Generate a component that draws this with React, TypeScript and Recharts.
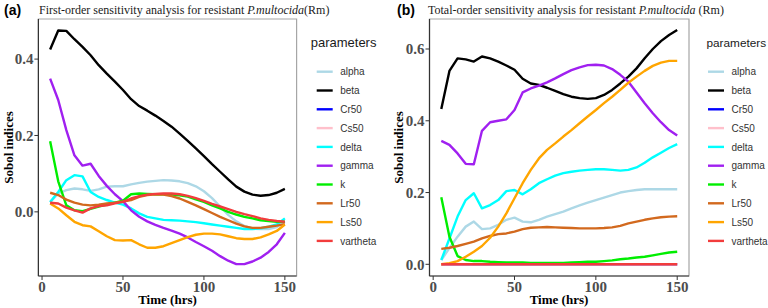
import React from "react";
import { LineChart, Line, XAxis, YAxis, ReferenceArea } from "recharts";

// Sampling times (hrs)
const times = [5, 10, 15, 20, 25, 30, 35, 40, 45, 50, 55, 60, 65, 70, 75, 80, 85, 90, 95, 100, 105, 110, 115, 120, 125, 130, 135, 140, 145, 150];

const paramNames = ["alpha", "beta", "Cr50", "Cs50", "delta", "gamma", "k", "Lr50", "Ls50", "vartheta"];
const paramColors = ["#add8e6", "#000000", "#0000ff", "#ffc0cb", "#00ffff", "#a020f0", "#00ee00", "#d2691e", "#ffa500", "#f23c3c"];

const xTicks = [0, 50, 100, 150];
const firstOrderTicks = [0, 0.2, 0.4];
const totalOrderTicks = [0, 0.2, 0.4, 0.6];

// First-order Sobol indices
const firstAlpha = [0.025, 0.048, 0.057, 0.061, 0.059, 0.055, 0.059, 0.066, 0.067, 0.067, 0.072, 0.076, 0.079, 0.081, 0.083, 0.082, 0.08, 0.075, 0.067, 0.054, 0.036, 0.014, -0.008, -0.025, -0.037, -0.044, -0.045, -0.045, -0.04, -0.025];
const firstBeta = [0.425, 0.475, 0.474, 0.452, 0.432, 0.41, 0.384, 0.362, 0.341, 0.319, 0.295, 0.277, 0.265, 0.252, 0.238, 0.223, 0.205, 0.186, 0.166, 0.146, 0.125, 0.105, 0.085, 0.066, 0.053, 0.045, 0.042, 0.044, 0.05, 0.06];
const firstCr50: (number | null)[] = [];
const firstCs50: (number | null)[] = [];
const firstDelta = [0.026, 0.052, 0.083, 0.096, 0.093, 0.052, 0.039, 0.031, 0.024, 0.019, 0.009, -0.004, -0.013, -0.017, -0.021, -0.022, -0.023, -0.025, -0.027, -0.03, -0.033, -0.036, -0.039, -0.042, -0.045, -0.045, -0.043, -0.039, -0.033, -0.017];
const firstGamma = [0.349, 0.293, 0.214, 0.148, 0.121, 0.126, 0.094, 0.068, 0.046, 0.028, 0.004, -0.013, -0.025, -0.034, -0.042, -0.049, -0.057, -0.067, -0.079, -0.09, -0.102, -0.116, -0.128, -0.137, -0.137, -0.13, -0.12, -0.105, -0.085, -0.055];
const firstK = [0.185, 0.08, 0.017, 0.004, 0.002, 0.008, 0.014, 0.019, 0.024, 0.029, 0.046, 0.048, 0.047, 0.046, 0.046, 0.045, 0.043, 0.04, 0.033, 0.026, 0.017, 0.009, 0.0, -0.007, -0.013, -0.017, -0.022, -0.024, -0.026, -0.026];
const firstLr50 = [0.05, 0.044, 0.032, 0.024, 0.019, 0.017, 0.019, 0.022, 0.024, 0.027, 0.031, 0.039, 0.044, 0.046, 0.045, 0.041, 0.035, 0.026, 0.017, 0.007, -0.003, -0.013, -0.022, -0.031, -0.038, -0.042, -0.042, -0.039, -0.036, -0.032];
const firstLs50 = [0.022, 0.009, -0.009, -0.026, -0.035, -0.038, -0.051, -0.064, -0.074, -0.075, -0.074, -0.085, -0.094, -0.094, -0.09, -0.082, -0.074, -0.066, -0.06, -0.057, -0.057, -0.059, -0.064, -0.069, -0.071, -0.071, -0.067, -0.059, -0.05, -0.033];
const firstVartheta = [0.024, 0.022, 0.011, 0.004, -0.002, 0.009, 0.015, 0.017, 0.022, 0.026, 0.035, 0.041, 0.045, 0.047, 0.048, 0.048, 0.046, 0.042, 0.036, 0.029, 0.021, 0.014, 0.007, 0.0, -0.006, -0.011, -0.017, -0.021, -0.024, -0.026];

// Total-order Sobol indices
const totalAlpha = [0.012, 0.045, 0.077, 0.105, 0.119, 0.098, 0.1, 0.11, 0.124, 0.13, 0.119, 0.117, 0.124, 0.133, 0.14, 0.147, 0.156, 0.164, 0.172, 0.179, 0.186, 0.193, 0.2, 0.204, 0.207, 0.209, 0.209, 0.209, 0.209, 0.209];
const totalBeta = [0.433, 0.539, 0.574, 0.571, 0.565, 0.579, 0.574, 0.565, 0.554, 0.542, 0.517, 0.504, 0.5, 0.492, 0.483, 0.474, 0.467, 0.463, 0.461, 0.463, 0.472, 0.486, 0.504, 0.523, 0.546, 0.574, 0.6, 0.622, 0.639, 0.653];
const totalCr50 = [0, 0, 0, 0, 0, 0, 0, 0, 0, 0, 0, 0, 0, 0, 0, 0, 0, 0, 0, 0, 0, 0, 0, 0, 0, 0, 0, 0, 0, 0];
const totalCs50 = [0, 0, 0, 0, 0, 0, 0, 0, 0, 0, 0, 0, 0, 0, 0, 0, 0, 0, 0, 0, 0, 0, 0, 0, 0, 0, 0, 0, 0, 0];
const totalDelta = [0.012, 0.072, 0.133, 0.179, 0.198, 0.156, 0.165, 0.179, 0.204, 0.207, 0.195, 0.209, 0.226, 0.237, 0.247, 0.254, 0.258, 0.261, 0.263, 0.265, 0.265, 0.263, 0.261, 0.263, 0.27, 0.283, 0.298, 0.311, 0.324, 0.335];
const totalGamma = [0.344, 0.333, 0.309, 0.28, 0.279, 0.372, 0.396, 0.4, 0.404, 0.43, 0.479, 0.49, 0.498, 0.507, 0.518, 0.53, 0.541, 0.549, 0.555, 0.556, 0.554, 0.544, 0.528, 0.509, 0.479, 0.449, 0.421, 0.396, 0.374, 0.359];
const totalK = [0.187, 0.077, 0.023, 0.012, 0.009, 0.009, 0.007, 0.006, 0.005, 0.005, 0.005, 0.004, 0.004, 0.004, 0.004, 0.004, 0.005, 0.006, 0.007, 0.007, 0.009, 0.011, 0.014, 0.016, 0.019, 0.021, 0.025, 0.029, 0.033, 0.035];
const totalLr50 = [0.043, 0.046, 0.051, 0.057, 0.063, 0.072, 0.079, 0.084, 0.086, 0.091, 0.098, 0.102, 0.103, 0.104, 0.103, 0.102, 0.101, 0.1, 0.1, 0.1, 0.101, 0.103, 0.107, 0.114, 0.119, 0.124, 0.128, 0.131, 0.133, 0.134];
const totalLs50 = [0, 0.003, 0.009, 0.021, 0.035, 0.051, 0.074, 0.105, 0.142, 0.184, 0.226, 0.263, 0.295, 0.319, 0.337, 0.356, 0.374, 0.393, 0.412, 0.43, 0.449, 0.467, 0.486, 0.506, 0.523, 0.539, 0.553, 0.562, 0.567, 0.567];
const totalVartheta = [0, 0, 0, 0, 0, 0, 0, 0, 0, 0, 0, 0, 0, 0, 0, 0, 0, 0, 0, 0, 0, 0, 0, 0, 0, 0, 0, 0, 0, 0];

const firstSeries = [firstAlpha, firstBeta, firstCr50, firstCs50, firstDelta, firstGamma, firstK, firstLr50, firstLs50, firstVartheta];
const totalSeries = [totalAlpha, totalBeta, totalCr50, totalCs50, totalDelta, totalGamma, totalK, totalLr50, totalLs50, totalVartheta];

type Row = Record<string, number | null>;

function buildRows(series: (number | null)[][]): Row[] {
  return times.map((t, i) => {
    const row: Row = { t };
    paramNames.forEach((name, j) => {
      const v = series[j][i];
      row[name] = v === undefined ? null : v;
    });
    return row;
  });
}

const firstRows = buildRows(firstSeries);
const totalRows = buildRows(totalSeries);

const X_DOMAIN: [number, number] = [-2.25, 157.25];
const SERIF = "'Liberation Serif', 'Times New Roman', serif";
const SANS = "'Liberation Sans', Arial, sans-serif";

interface PanelProps {
  rows: Row[];
  series: (number | null)[][];
  yDomain: [number, number];
  yTicks: number[];
  axisWidth: number;
  rightMargin: number;
}

function Panel({ rows, series, yDomain, yTicks, axisWidth, rightMargin }: PanelProps) {
  const tickStyle = { fontFamily: SERIF, fontSize: 15, fontWeight: 700, fill: "#4d4d4d" };
  return (
    <LineChart width={384} height={308} data={rows} margin={{ top: 19, right: rightMargin, bottom: 0, left: 0 }}>
      <ReferenceArea x1={X_DOMAIN[0]} x2={X_DOMAIN[1]} y1={yDomain[0]} y2={yDomain[1]} fill="none" stroke="#a6a6a6" strokeWidth={1.2} ifOverflow="visible" />
      <XAxis
        dataKey="t"
        type="number"
        domain={X_DOMAIN}
        ticks={xTicks}
        allowDataOverflow
        height={32}
        tickSize={4}
        tickMargin={1}
        tick={tickStyle}
        stroke="#333333"
        tickLine={{ stroke: "#333333" }}
        axisLine={{ stroke: "#333333", strokeWidth: 1.2 }}
      />
      <YAxis
        type="number"
        domain={yDomain}
        ticks={yTicks}
        allowDataOverflow
        width={axisWidth}
        tickSize={4}
        tickMargin={1}
        tick={tickStyle}
        tickFormatter={(v: number) => v.toFixed(1)}
        stroke="#333333"
        tickLine={{ stroke: "#333333" }}
        axisLine={{ stroke: "#333333", strokeWidth: 1.2 }}
      />
      {paramNames.map((name, j) =>
        series[j].length > 0 ? (
          <Line
            key={name}
            type="linear"
            dataKey={name}
            stroke={paramColors[j]}
            strokeWidth={2.4}
            strokeLinejoin="round"
            strokeLinecap="butt"
            dot={false}
            activeDot={false}
            isAnimationActive={false}
          />
        ) : null
      )}
    </LineChart>
  );
}

function LegendBlock({ titleX, keyX, titleSize }: { titleX: number; keyX: number; titleSize: number }) {
  return (
    <g>
      <text x={titleX} y={47} fontFamily={SANS} fontSize={titleSize} fill="#1a1a1a">
        parameters
      </text>
      {paramNames.map((name, j) => {
        const cy = 71.7 + j * 18.8;
        return (
          <g key={name}>
            <line x1={keyX} x2={keyX + 16} y1={cy} y2={cy} stroke={paramColors[j]} strokeWidth={2.4} />
            <text x={keyX + 23.5} y={cy + 3.6} fontFamily={SANS} fontSize={10} fill="#333333">
              {name}
            </text>
          </g>
        );
      })}
    </g>
  );
}

export default function App() {
  return (
    <div style={{ position: "absolute", left: 0, top: 0, width: 768, height: 308, background: "#ffffff", overflow: "hidden" }}>
      <div style={{ position: "absolute", left: 0, top: 0 }}>
        <Panel rows={firstRows} series={firstSeries} yDomain={[-0.168, 0.505]} yTicks={firstOrderTicks} axisWidth={38.4} rightMargin={87.4} />
      </div>
      <div style={{ position: "absolute", left: 384, top: 0 }}>
        <Panel rows={totalRows} series={totalSeries} yDomain={[-0.0326, 0.6836]} yTicks={totalOrderTicks} axisWidth={45.5} rightMargin={79} />
      </div>
      <svg width={768} height={308} style={{ position: "absolute", left: 0, top: 0, pointerEvents: "none" }}>
        <text x={4} y={15} fontFamily={SANS} fontWeight={700} fontSize={14} fill="#000">(a)</text>
        <text x={39} y={13.5} fontFamily={SERIF} fontSize={12} fill="#1a1a1a">
          First-order sensitivity analysis for resistant <tspan fontStyle="italic">P.multocida</tspan>(Rm)
        </text>
        <text x={397} y={15} fontFamily={SANS} fontWeight={700} fontSize={14} fill="#000">(b)</text>
        <text x={428} y={13.5} fontFamily={SERIF} fontSize={12} fill="#1a1a1a">
          Total-order sensitivity analysis for resistant <tspan fontStyle="italic">P.multocida</tspan> (Rm)
        </text>

        <text transform="translate(8.3,147.5) rotate(-90)" textAnchor="middle" dominantBaseline="central" fontFamily={SERIF} fontWeight={700} fontSize={13} fill="#000">
          Sobol indices
        </text>
        <text transform="translate(398.5,147.5) rotate(-90)" textAnchor="middle" dominantBaseline="central" fontFamily={SERIF} fontWeight={700} fontSize={13} fill="#000">
          Sobol indices
        </text>

        <text x={167.5} y={303.5} textAnchor="middle" fontFamily={SERIF} fontWeight={700} fontSize={13} fill="#000">Time (hrs)</text>
        <text x={559} y={303.5} textAnchor="middle" fontFamily={SERIF} fontWeight={700} fontSize={13} fill="#000">Time (hrs)</text>

        <LegendBlock titleX={310.7} keyX={316.7} titleSize={13} />
        <LegendBlock titleX={706.5} keyX={708} titleSize={11.8} />
      </svg>
    </div>
  );
}
